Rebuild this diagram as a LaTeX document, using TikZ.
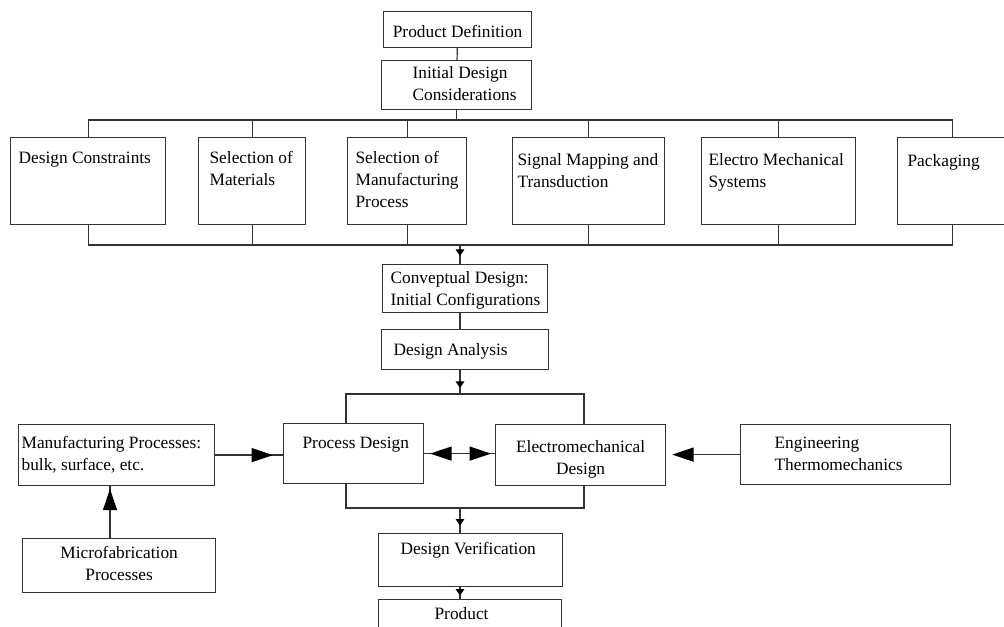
\documentclass[tikz,border=0pt]{standalone}
\usepackage{fontspec}
\setmainfont{Liberation Serif}
\usepackage{tikz}
\usetikzlibrary{arrows.meta, decorations.markings}

\newlength\pxu
\setlength\pxu{0.75pt}
% 框内文字: 宽, 高, 左距, 首行基线, 文字
\newcommand{\boxtext}[5]{\parbox[t][#2\pxu][t]{#1\pxu}{\raggedright\rightskip=0pt plus 1fil minus 40pt
		\leftskip=#3\pxu\rule{0pt}{#4\pxu}#5}}
% 居中文字: 宽, 高, 首行基线, 文字
\newcommand{\cboxtext}[4]{\parbox[t][#2\pxu][t]{#1\pxu}{\centering\leftskip=0pt plus 1fil minus 20pt
		\rightskip=0pt plus 1fil minus 20pt\rule{0pt}{#3\pxu}#4}}

\tikzset{
	smallhead/.tip={Triangle[length=5pt,width=6.5pt,color=black]},
	bighead/.tip={Triangle[length=16pt,width=10.5pt,color=black]},
	blk/.style={draw=black!80, line width=0.9pt, inner sep=0pt, anchor=north west},
	lnk/.style={draw=black!80, line width=0.9pt},
	smallflow/.style={postaction={decorate}, decoration={markings, mark=at position -#1 with {\arrow{smallhead}}}},
	smallflow/.default=5pt,
	bigflow/.style={postaction={decorate}, decoration={markings, mark=at position -#1 with {\arrow{bighead}}}},
	bigflow/.default=5pt,
}

\begin{document}
\begin{tikzpicture}[x=0.75pt, y=-0.75pt, font=\fontsize{13}{16.5}\selectfont]
		\useasboundingbox (0,0) rectangle (1004,627);
		
		% 顶部
		\node[blk] (prodef) at (383,11) {\cboxtext{148}{36}{26}{Product Definition}};
		\node[blk] (initdes) at (381,60) {\boxtext{150}{49}{31}{18}{Initial Design\\Considerations}};
		
		% 第一排
		\node[blk] (dcon) at (10,137) {\boxtext{155}{87}{8}{26}{Design Constraints}};
		\node[blk] (selmat) at (198,137) {\boxtext{107}{87}{11}{26}{Selection of\\Materials}};
		\node[blk] (selmfg) at (347,137) {\boxtext{119}{87}{8}{26}{Selection of\\Manufacturing\\Process}};
		\node[blk] (sigmap) at (512,137) {\boxtext{152}{87}{5}{28}{Signal Mapping and\\Transduction}};
		\node[blk] (elmech) at (701,137) {\boxtext{154}{87}{7}{28}{Electro Mechanical\\Systems}};
		\node[blk] (pack) at (897,137) {\boxtext{110}{87}{10}{29}{Packaging}};
		
		% 中间
		\node[blk] (concept) at (382,264) {\boxtext{165}{48}{8}{19}{Conveptual Design:\\Initial Configurations}};
		\node[blk] (analysis) at (381,329) {\boxtext{167}{40}{12}{26}{Design Analysis}};
		\node[blk] (mfgproc) at (18,424) {\boxtext{196}{61}{3}{24}{Manufacturing Processes:\\bulk, surface, etc.}};
		\node[blk] (procdes) at (283,423) {\boxtext{140}{60}{19}{25}{Process Design}};
		\node[blk] (emdes) at (495,424) {\cboxtext{170}{61}{28}{Electromechanical\\Design}};
		\node[blk] (thermo) at (740,424) {\boxtext{210}{60}{34}{24}{Engineering\\Thermomechanics}};
		\node[blk] (microfab) at (22,538) {\cboxtext{193}{54}{20}{Microfabrication\\Processes}};
		
		% 底部
		\node[blk] (verif) at (378,533) {\boxtext{184}{53}{22}{21}{Design Verification}};
		\node[blk] (product) at (378,599) {\boxtext{183}{45}{56}{20}{Product}};
		
		% 总线
		\coordinate (busA) at (0,120);
		\coordinate (busB) at (0,245);
		\coordinate (split) at (0,394);
		\coordinate (merge) at (0,508);
		\coordinate (spine) at (460,0);
		\coordinate (pdcol) at (346,0);
		\coordinate (emcol) at (584,0);
		\coordinate (mfcol) at (110,0);
		
		\draw[lnk] (prodef) -- (initdes);
		\draw[lnk] (initdes.south) -- (initdes.south |- busA);
		\draw[lnk] (dcon.north |- busA) -- (pack.north |- busA);
		\draw[lnk] (dcon.south |- busB) -- (pack.south |- busB);
		\foreach \n in {dcon,selmat,selmfg,sigmap,elmech,pack} {
			\draw[lnk] (\n.north |- busA) -- (\n.north);
			\draw[lnk] (\n.south) -- (\n.south |- busB);
		}
		\draw[lnk, smallflow=6pt] (spine |- busB) -- (spine |- concept.north);
		\draw[lnk] (spine |- concept.south) -- (spine |- analysis.north);
		\draw[lnk, smallflow=4.5pt] (spine |- analysis.south) -- (spine |- split);
		\draw[lnk] (pdcol |- procdes.north) -- (pdcol |- split) -- (emcol |- split) -- (emcol |- emdes.north);
		\draw[lnk] (pdcol |- procdes.south) -- (pdcol |- merge) -- (emcol |- merge) -- (emcol |- emdes.south);
		\draw[lnk, smallflow=5.5pt] (spine |- merge) -- (spine |- verif.north);
		\draw[lnk, smallflow=2.5pt] (spine |- verif.south) -- (spine |- product.north);
		
		% 大箭头
		\draw[lnk, bigflow=7.5pt] (mfgproc.east) -- (mfgproc.east -| procdes.west);
		\draw[lnk, postaction={decorate}, decoration={markings,
			mark=at position 4.5pt with {\arrowreversed{bighead}},
			mark=at position -3pt with {\arrow{bighead}}}] (procdes.east) -- (procdes.east -| emdes.west);
		\draw[lnk, -{bighead}, shorten >=4.5pt] (thermo.west) -- (thermo.west -| emdes.east);
		\draw[lnk, bigflow=2pt] (mfcol |- microfab.north) -- (mfcol |- mfgproc.south);
	\end{tikzpicture}
\end{document}
